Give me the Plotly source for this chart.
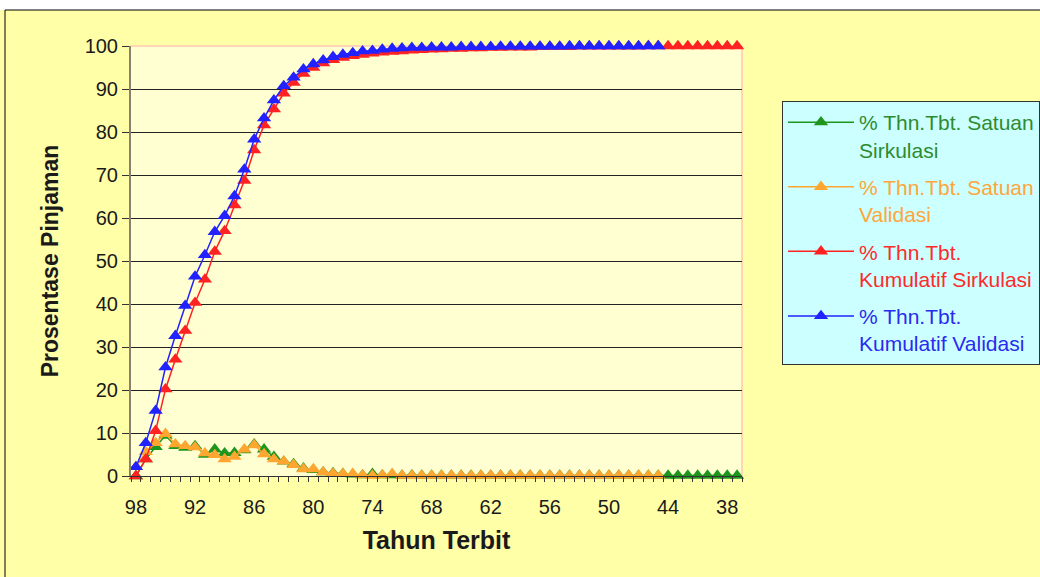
import plotly.graph_objects as go

# Publication years (x) and loan percentages per year of publication
tahun_sirkulasi = list(range(98, 36, -1))   # 98 .. 37
tahun_validasi = list(range(98, 44, -1))    # 98 .. 45

satuan_sirkulasi = [
    0.0, 3.9, 6.8, 9.4, 7.0, 6.6, 7.0, 5.0, 6.2, 5.3,
    5.4, 6.0, 7.4, 6.2, 4.5, 3.4, 2.8, 1.8, 1.4, 0.9,
    0.7, 0.5, 0.4, 0.2, 0.5, 0.2, 0.2, 0.1, 0.2, 0.1,
    0.1, 0.1, 0.1, 0.1, 0.1, 0.1, 0.1, 0.1, 0.1, 0.1,
    0.1, 0.1, 0.1, 0.1, 0.1, 0.1, 0.1, 0.1, 0.1, 0.1,
    0.1, 0.1, 0.1, 0.1, 0.1, 0.1, 0.1, 0.1, 0.1, 0.1,
    0.1, 0.1,
]
satuan_validasi = [
    2.1, 5.6, 7.7, 9.8, 7.4, 7.0, 6.7, 5.3, 4.9, 3.9,
    4.5, 6.2, 7.2, 5.1, 3.9, 3.4, 2.6, 1.6, 1.6, 0.9,
    0.6, 0.5, 0.5, 0.2, 0.1, 0.2, 0.5, 0.1, 0.1, 0.1,
    0.1, 0.1, 0.1, 0.1, 0.1, 0.1, 0.1, 0.1, 0.1, 0.1,
    0.1, 0.1, 0.1, 0.1, 0.1, 0.1, 0.1, 0.1, 0.1, 0.1,
    0.1, 0.1, 0.1, 0.1,
]
kumulatif_sirkulasi = [
    0.0, 3.9, 10.5, 20.2, 27.1, 33.8, 40.3, 45.7, 52.2, 57.0,
    63.0, 68.7, 75.8, 81.6, 85.3, 89.0, 91.5, 93.6, 95.0, 96.0,
    96.8, 97.3, 97.7, 98.0, 98.3, 98.5, 98.7, 98.8, 99.0, 99.1,
    99.2, 99.3, 99.4, 99.4, 99.5, 99.5, 99.6, 99.6, 99.7, 99.7,
    99.7, 99.8, 99.8, 99.8, 99.8, 99.9, 99.9, 99.9, 99.9, 99.9,
    99.9, 99.9, 100.0, 100.0, 100.0, 100.0, 100.0, 100.0, 100.0, 100.0,
    100.0, 100.0,
]
kumulatif_validasi = [
    2.1, 7.7, 15.2, 25.3, 32.6, 39.6, 46.4, 51.4, 56.8, 60.5,
    65.1, 71.3, 78.3, 83.2, 87.4, 90.7, 92.7, 94.6, 95.8, 96.7,
    97.5, 98.0, 98.4, 98.8, 98.9, 99.2, 99.4, 99.5, 99.6, 99.6,
    99.7, 99.7, 99.7, 99.8, 99.8, 99.8, 99.8, 99.9, 99.9, 99.9,
    99.9, 99.9, 99.9, 99.9, 100.0, 100.0, 100.0, 100.0, 100.0, 100.0,
    100.0, 100.0, 100.0, 100.0,
]

x_ticks = [98, 92, 86, 80, 74, 68, 62, 56, 50, 44, 38]
y_ticks = list(range(0, 101, 10))

FONT = "Arial, Liberation Sans, sans-serif"

series = [
    ("% Thn.Tbt. Satuan<br>Sirkulasi", tahun_sirkulasi, satuan_sirkulasi, "#1E961E", "#2E8B2E"),
    ("% Thn.Tbt. Satuan<br>Validasi", tahun_validasi, satuan_validasi, "#FFA630", "#FFA53A"),
    ("% Thn.Tbt.<br>Kumulatif Sirkulasi", tahun_sirkulasi, kumulatif_sirkulasi, "#FF2222", "#FF2A2A"),
    ("% Thn.Tbt.<br>Kumulatif Validasi", tahun_validasi, kumulatif_validasi, "#2222FF", "#2A2AF0"),
]

fig = go.Figure()
for i, (name, xs, ys, color, text_color) in enumerate(series):
    fig.add_trace(go.Scatter(
        x=xs, y=ys, mode="lines+markers",
        name=f"<span style='color:{text_color}'>{name}</span>",
        legendgroup=f"g{i}",
        line=dict(color=color, width=1.5),
        marker=dict(symbol="triangle-up", size=12.5, color=color),
        cliponaxis=False,
    ))

L, T, W, H = 131, 46, 611, 430
PW, PH = 1040, 577


def px(xp):
    return (xp - L) / W


def py(yp):
    return (T + H - yp) / H


shapes = [
    # white strip above the chart frame
    dict(type="rect", xref="paper", yref="paper", x0=px(-2), x1=px(PW + 2),
         y0=py(10), y1=py(-2), fillcolor="white", line=dict(width=0), layer="below"),
    # chart frame
    dict(type="line", xref="paper", yref="paper", x0=px(5), x1=px(PW + 2),
         y0=py(10), y1=py(10), line=dict(color="black", width=1)),
    dict(type="line", xref="paper", yref="paper", x0=px(5), x1=px(5),
         y0=py(10), y1=py(PH + 2), line=dict(color="black", width=1)),
    # plot-area border (top and right)
    dict(type="line", xref="paper", yref="paper", x0=0, x1=1, y0=1, y1=1,
         line=dict(color="#FFC8B4", width=1.5), layer="between"),
    dict(type="line", xref="paper", yref="paper", x0=1, x1=1, y0=0, y1=1,
         line=dict(color="#FFC8B4", width=1.5), layer="between"),
]

fig.update_layout(
    width=PW, height=PH,
    margin=dict(l=L, r=PW - L - W, t=T, b=PH - T - H, pad=0, autoexpand=False),
    paper_bgcolor="#FFFFA8",
    plot_bgcolor="#FFFFD2",
    font=dict(family=FONT, size=20, color="#1A1A1A"),
    showlegend=True,
    legend=dict(
        x=px(782), y=py(101), xanchor="left", yanchor="top",
        bgcolor="#CCFFFF", bordercolor="#333333", borderwidth=1,
        font=dict(family=FONT, size=21),
        itemwidth=66, valign="top", tracegroupgap=7,
        traceorder="grouped",
    ),
    shapes=shapes,
)

fig.update_xaxes(
    range=[98.5, 36.5],
    tickmode="array", tickvals=x_ticks, ticks="",
    ticklabelstandoff=13,
    tickfont=dict(size=20),
    showgrid=False, zeroline=False,
    showline=True, linecolor="#333333", linewidth=1,
    minor=dict(tick0=98.5, dtick=1, ticks="outside", ticklen=5,
               tickcolor="#333333", tickwidth=1, showgrid=False),
    title=dict(text="<b>Tahun Terbit</b>", font=dict(size=25, family=FONT), standoff=14),
)
fig.update_yaxes(
    range=[0, 100],
    tickmode="array", tickvals=y_ticks,
    ticks="outside", ticklen=7, tickcolor="#333333",
    tickfont=dict(size=20),
    showgrid=True, gridcolor="#222222", gridwidth=1,
    zeroline=False,
    showline=True, linecolor="#8A8070", linewidth=2,
    title=dict(text="<b>Prosentase Pinjaman</b>", font=dict(size=23, family=FONT), standoff=20),
)

fig.write_html("out.html")
